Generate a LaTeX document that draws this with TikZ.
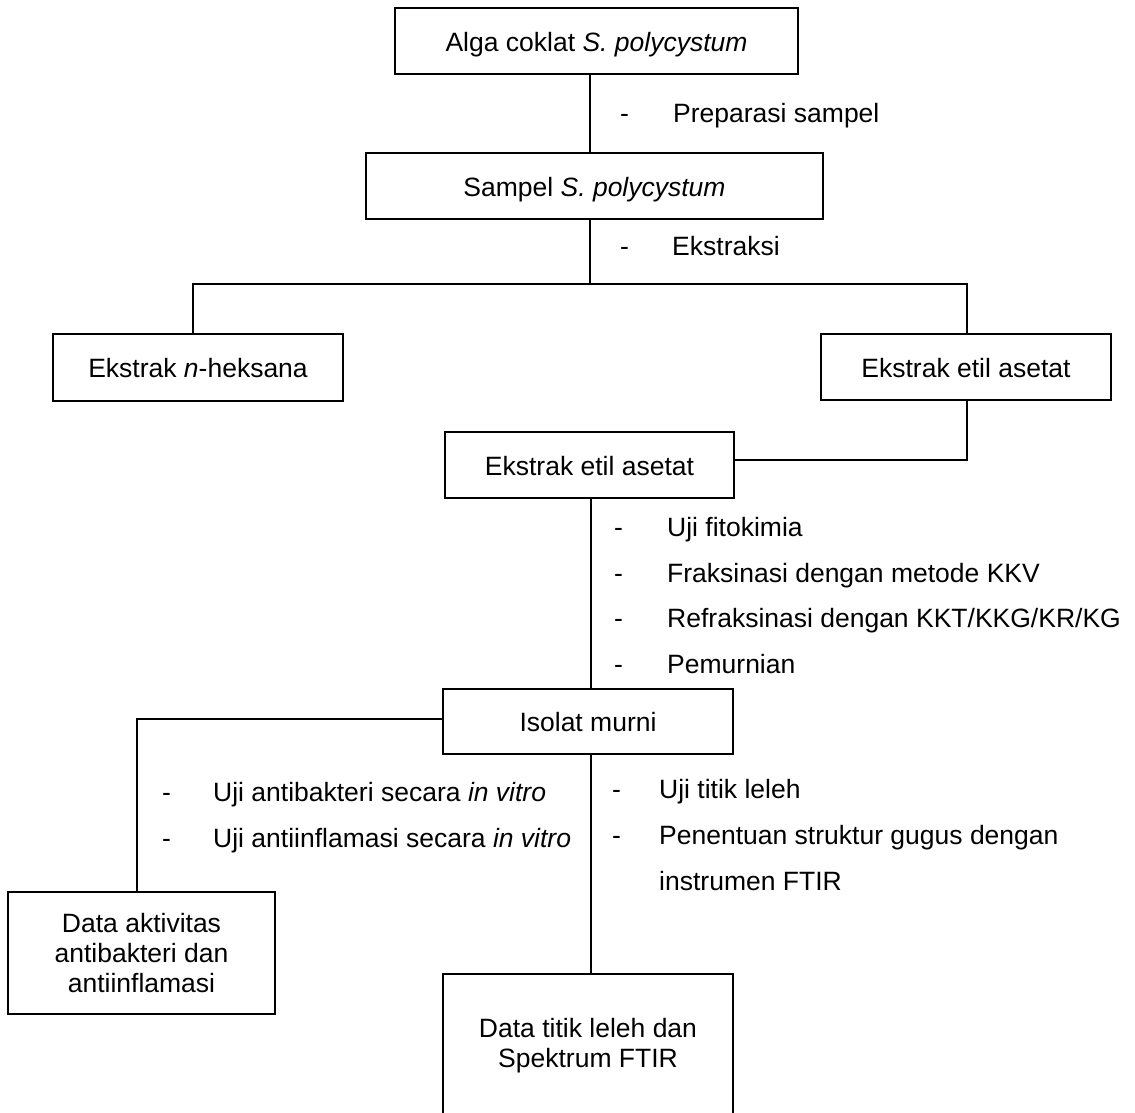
\documentclass[tikz,border=0pt]{standalone}
\usepackage{fontspec}
\setmainfont{Liberation Sans}
\newcommand{\dfont}{\fontsize{26.5pt}{30pt}\selectfont}
\begin{document}
\begin{tikzpicture}[x=1pt,y=-1pt,
  box/.style={draw,line width=1.8pt,inner sep=0pt,text height=20pt,text depth=0pt,font=\dfont},
  mbox/.style={draw,line width=1.8pt,inner sep=0pt,align=center,font=\dfont},
  conn/.style={line width=1.1pt},
  lbl/.style={anchor=base west,inner sep=0pt,font=\dfont}]
\path[fill=white] (0,0) rectangle (1135,1112);
\useasboundingbox (0,0) rectangle (1135,1112);

% boxes
\node[box,minimum width=403pt,minimum height=66pt] (alga) at (596.5,41) {Alga coklat \textit{S. polycystum}};
\node[box,minimum width=457pt,minimum height=66pt] (sampel) at (594.5,186) {Sampel \textit{S. polycystum}};
\node[box,minimum width=290pt,minimum height=67pt] (heks) at (198,367.5) {Ekstrak \textit{n}-heksana};
\node[box,minimum width=290pt,minimum height=66pt] (etil1) at (966,367) {Ekstrak etil asetat};
\node[box,minimum width=289pt,minimum height=66pt] (etil2) at (589.5,465) {Ekstrak etil asetat};
\node[box,minimum width=290pt,minimum height=65pt] (isolat) at (588,721.5) {Isolat murni};
\node[mbox,minimum width=267pt,minimum height=122pt] (akt) at (141.5,953) {Data aktivitas\\antibakteri dan\\antiinflamasi};
\node[mbox,minimum width=290pt,minimum height=144pt] (ftir) at (588,1046) {Data titik leleh dan\\Spektrum FTIR};

% connectors
\coordinate (v1) at (590,0);
\coordinate (sp) at (590,284);
\coordinate (hl) at (193,284);
\coordinate (hr) at (967,284);
\coordinate (c4) at (967,460);
\coordinate (v2) at (591,0);
\coordinate (c6) at (137,719);
\draw[conn] (alga.south -| v1) -- (sampel.north -| v1);
\draw[conn] (sampel.south -| sp) -- (sp);
\draw[conn] (heks.north -| hl) -- (hl) -- (hr) -- (etil1.north -| hr);
\draw[conn] (etil1.south -| c4) -- (c4) -- (c4 -| etil2.east);
\draw[conn] (etil2.south -| v2) -- (isolat.north -| v2);
\draw[conn] (c6 -| isolat.west) -- (c6) -- (akt.north -| c6);
\draw[conn] (isolat.south -| v2) -- (ftir.north -| v2);

% step labels
\node[lbl] (d1) at (620,122) {-};
\node[lbl] (t1) at (673,122) {Preparasi sampel};
\node[lbl] (d2) at (620,255) {-};
\node[lbl] (t2) at (672,255) {Ekstraksi};

\node[lbl] (d3) at (614,536) {-};
\node[lbl] (t3) at (667,536) {Uji fitokimia};
\node[lbl] (d4) at (614,582) {-};
\node[lbl] (t4) at (667,582) {Fraksinasi dengan metode KKV};
\node[lbl] (d5) at (614,627) {-};
\node[lbl] (t5) at (667,627) {Refraksinasi dengan KKT/KKG/KR/KG};
\node[lbl] (d6) at (614,673) {-};
\node[lbl] (t6) at (667,673) {Pemurnian};

\node[lbl] (d7) at (162,801) {-};
\node[lbl] (t7) at (213,801) {Uji antibakteri secara \textit{in vitro}};
\node[lbl] (d8) at (162,847) {-};
\node[lbl] (t8) at (213,847) {Uji antiinflamasi secara \textit{in vitro}};

\node[lbl] (d9) at (612,798) {-};
\node[lbl] (t9) at (659,798) {Uji titik leleh};
\node[lbl] (d10) at (612,844) {-};
\node[lbl] (t10) at (659,844) {Penentuan struktur gugus dengan};
\node[lbl] (t11) at (659,890) {instrumen FTIR};
\end{tikzpicture}
\end{document}
